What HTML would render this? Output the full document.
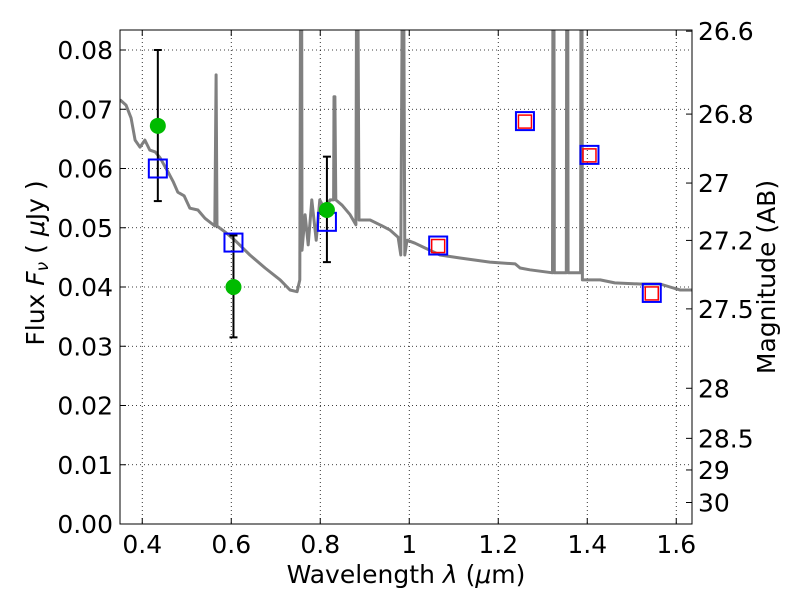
<!DOCTYPE html>
<html><head><meta charset="utf-8"><style>
body{margin:0;background:#fff;}
svg text{font-family:"DejaVu Sans","Liberation Sans",sans-serif;}
</style></head><body>
<svg id="c" width="800" height="600" xmlns="http://www.w3.org/2000/svg">
<defs><clipPath id="pc"><rect x="120" y="30" width="572" height="494"/></clipPath></defs>
<rect width="800" height="600" fill="#fff"/>
<g id="grid"></g>
<g id="spec" clip-path="url(#pc)"></g>
<g id="pts"></g>
<rect x="120" y="30" width="572" height="494" fill="none" stroke="#000" stroke-width="1"/>
<g id="axes"></g>
<text x="406" y="583" font-size="25" text-anchor="middle">Wavelength  <tspan font-style="italic">λ</tspan> (<tspan font-style="italic">μ</tspan>m)</text>
<text transform="translate(44,263) rotate(-90)" font-size="25" text-anchor="middle">Flux  <tspan font-style="italic">F<tspan font-size="17" dy="4">ν</tspan></tspan><tspan dy="-4">  ( </tspan><tspan font-style="italic">μ</tspan>Jy )</text>
<text transform="translate(775,277) rotate(-90)" font-size="25" text-anchor="middle">Magnitude (AB)</text>
</svg>
<script>
const xTicks=[0.4,0.6,0.8,1.0,1.2,1.4,1.6];
const xTickLabels=["0.4","0.6","0.8","1","1.2","1.4","1.6"];
const yTicks=[0,0.01,0.02,0.03,0.04,0.05,0.06,0.07,0.08];
const yTickLabels=["0.00","0.01","0.02","0.03","0.04","0.05","0.06","0.07","0.08"];
const magTicks=[26.6,26.8,27,27.2,27.5,28,28.5,29,30];
const magTickLabels=["26.6","26.8","27","27.2","27.5","28","28.5","29","30"];
const specWave=[0.350,0.3635,0.375,0.384,0.395,0.406,0.417,0.429,0.440,0.458,0.470,0.480,0.494,0.507,0.525,0.541,0.563,0.566,0.568,0.586,0.608,0.642,0.676,0.710,0.732,0.748,0.754,0.756,0.758,0.759,0.766,0.773,0.781,0.791,0.799,0.811,0.822,0.830,0.831,0.833,0.835,0.849,0.867,0.880,0.882,0.884,0.887,0.912,0.934,0.957,0.975,0.981,0.985,0.987,0.990,0.995,1.013,1.035,1.069,1.114,1.181,1.238,1.249,1.271,1.322,1.323,1.325,1.326,1.353,1.354,1.356,1.357,1.385,1.386,1.388,1.389,1.429,1.462,1.519,1.564,1.586,1.609,1.636];
const specFlux=[0.0716,0.0707,0.0685,0.0648,0.0636,0.0648,0.0631,0.0628,0.0618,0.0594,0.0577,0.0560,0.0554,0.0533,0.0530,0.0516,0.0503,0.0758,0.0503,0.0493,0.0479,0.0454,0.0432,0.0412,0.0395,0.0392,0.0412,0.1,0.1,0.0462,0.0522,0.0471,0.0547,0.0479,0.0547,0.0530,0.0547,0.0547,0.0721,0.0721,0.0547,0.0538,0.0522,0.0505,0.1,0.1,0.0513,0.0513,0.0505,0.0496,0.0484,0.0454,0.1,0.1,0.0454,0.0479,0.0474,0.0466,0.0454,0.0449,0.0442,0.0439,0.0432,0.0429,0.0424,0.1,0.1,0.0424,0.0424,0.1,0.1,0.0424,0.0424,0.1,0.1,0.0412,0.0412,0.0407,0.0405,0.0405,0.0400,0.0395,0.0395];
const greenWave=[0.435,0.605,0.815];
const greenFlux=[0.0672,0.0400,0.0530];
const greenErrLo=[0.0545,0.0315,0.0442];
const greenErrHi=[0.0800,0.0487,0.0620];
const blueWave=[0.435,0.605,0.815,1.065,1.26,1.405,1.545];
const blueFlux=[0.0600,0.0475,0.0510,0.0470,0.0680,0.0623,0.0390];
const redWave=[1.065,1.26,1.405,1.545];
const redFlux=[0.0470,0.0680,0.0623,0.0390];

const X=v=>120+(v-0.35)*445;
const Y=v=>524-v*5925;
const NS="http://www.w3.org/2000/svg";
function mk(p,t,a){const e=document.createElementNS(NS,t);for(const k in a)e.setAttribute(k,a[k]);p.appendChild(e);return e;}
const grid=document.getElementById('grid'),axes=document.getElementById('axes');
xTicks.forEach((v,i)=>{
 const l=mk(grid,'line',{x1:X(v),x2:X(v),y1:30,y2:524,stroke:'#000','stroke-dasharray':'1,3','stroke-width':0.8});
 
 mk(axes,'line',{x1:X(v),x2:X(v),y1:524,y2:518,stroke:'#000'});
 mk(axes,'line',{x1:X(v),x2:X(v),y1:30,y2:36,stroke:'#000'});
 const t=mk(axes,'text',{x:X(v),y:553,'font-size':25,'text-anchor':'middle'});t.textContent=xTickLabels[i];
 
});
yTicks.forEach((v,i)=>{
 const l=mk(grid,'line',{x1:120,x2:692,y1:Y(v),y2:Y(v),stroke:'#000','stroke-dasharray':'1,3','stroke-width':0.8});
 
 mk(axes,'line',{x1:120,x2:126,y1:Y(v),y2:Y(v),stroke:'#000'});
 const t=mk(axes,'text',{x:113,y:Y(v)+9,'font-size':25,'text-anchor':'end'});t.textContent=yTickLabels[i];
 
});
magTicks.forEach((m,i)=>{
 const f=Math.pow(10,(23.9-m)/2.5);const y=Y(f);
 mk(axes,'line',{x1:692,x2:686,y1:y,y2:y,stroke:'#000'});
 const t=mk(axes,'text',{x:698,y:y+9,'font-size':25});t.textContent=magTickLabels[i];
 
});
const sp=document.getElementById('spec');
const path=mk(sp,'path',{d:specWave.map((w,i)=>(i?'L':'M')+X(w).toFixed(1)+','+Y(specFlux[i]).toFixed(1)).join(''),fill:'none',stroke:'#808080','stroke-width':3,'stroke-linejoin':'round'});

const pts=document.getElementById('pts');
greenWave.forEach((w,i)=>{
 const x=X(w);
 const g=mk(pts,'g',{});
 
 mk(g,'line',{x1:x,x2:x,y1:Y(greenErrLo[i]),y2:Y(greenErrHi[i]),stroke:'#000','stroke-width':2});
 mk(g,'line',{x1:x-4,x2:x+4,y1:Y(greenErrLo[i]),y2:Y(greenErrLo[i]),stroke:'#000','stroke-width':2});
 mk(g,'line',{x1:x-4,x2:x+4,y1:Y(greenErrHi[i]),y2:Y(greenErrHi[i]),stroke:'#000','stroke-width':2});
});
blueWave.forEach((w,i)=>{
 const r=mk(pts,'rect',{x:X(w)-9,y:Y(blueFlux[i])-9,width:18,height:18,fill:'none',stroke:'#0000ff','stroke-width':2});
 
});
redWave.forEach((w,i)=>{
 const r=mk(pts,'rect',{x:X(w)-6.5,y:Y(redFlux[i])-6,width:13,height:13,fill:'none',stroke:'#ff0000','stroke-width':1.5});
 
});
greenWave.forEach((w,i)=>{
 const c=mk(pts,'circle',{cx:X(w),cy:Y(greenFlux[i]),r:8,fill:'#00bb00'});
 
});
</script>
</body></html>
